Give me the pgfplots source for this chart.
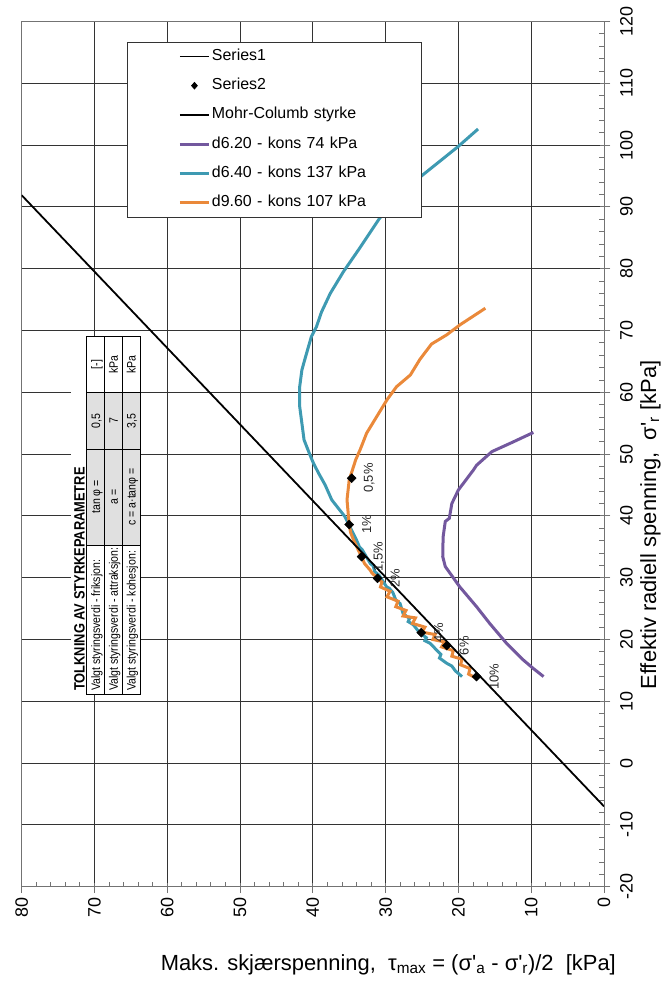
\documentclass[border=0pt]{standalone}
\usepackage{fontspec}
\setmainfont{Liberation Sans}
\newfontfamily\lsans{Liberation Sans}
\newfontfamily\narrowfont[FakeStretch=0.86]{Liberation Sans}
\usepackage{pgfplots}
\usepackage{pgfplotstable}
\pgfplotsset{compat=1.18}
\definecolor{mpurple}{RGB}{115,88,158}
\definecolor{mteal}{RGB}{62,154,178}
\definecolor{morange}{RGB}{234,137,58}
\definecolor{cellgray}{RGB}{224,224,224}

\pgfplotstableread{
tau sig
9.7 53.5
12.6 51.9
15.4 50.4
17.5 48.2
17.95 47.4
20.0 44.2
20.9 42.0
21.25 39.6
21.8 39.1
22.1 36.6
22.15 33.4
21.8 31.8
19.8 28.5
17.5 25.3
15.7 22.6
13.4 19.4
11.1 16.7
9.7 15.3
8.3 14.0
}\purpletab

\pgfplotstableread{
tau sig
17.3 102.6
20.0 99.8
25.5 94.6
30.8 88.2
33.75 83.0
35.8 79.5
37.6 76.0
38.8 73.0
39.5 70.6
40.2 69.0
41.1 65.3
41.5 63.6
41.8 60.9
41.8 57.7
41.5 55.0
41.2 52.3
40.4 49.9
39.9 48.5
39.2 46.9
38.3 45.0
37.4 42.6
35.6 39.9
34.0 36.1
33.6 35.0
33.2 34.5
32.1 32.3
31.7 31.9
31.5 31.0
30.9 30.4
29.85 28.5
29.5 28.3
29.0 27.6
28.6 26.4
28.0 25.8
27.6 24.2
26.7 23.4
26.9 22.9
26.2 22.4
25.3 21.05
24.4 20.3
24.6 19.8
23.9 19.4
23.0 18.3
22.4 17.6
22.6 17.0
21.6 16.15
20.9 15.7
20.4 14.9
19.5 14.0
}\tealtab

\pgfplotstableread{
tau sig
17.5 13.7
18.6 14.4
18.4 15.3
19.7 15.9
19.5 16.8
20.9 17.3
20.7 18.2
22.3 18.8
21.9 19.6
23.5 20.0
23.2 20.8
25.0 21.2
24.6 22.0
26.3 22.6
25.9 23.5
27.6 23.8
27.2 24.7
28.6 25.3
28.3 26.2
29.8 26.9
29.4 27.8
30.7 28.5
30.5 29.3
31.1 29.9
31.9 30.8
32.1 31.2
32.9 32.3
33.3 33.4
33.8 34.6
34.4 36.1
34.8 37.3
35.0 38.6
35.3 42.6
35.0 45.8
34.4 48.0
34.1 49.1
33.5 50.7
32.6 53.4
31.2 56.1
29.8 58.8
28.5 60.9
26.6 62.8
25.3 65.3
23.7 67.8
21.6 69.3
19.8 70.9
16.3 73.6
}\orangetab

\pgfplotstableread{
tau sig lab
34.66 46.1 0,5\%
35.0 38.6 1\%
33.3 33.4 1,5\%
31.1 29.9 2\%
25.1 21.1 4\%
21.6 19.0 6\%
17.5 14.0 10\%
}\pointtab

\begin{document}
\begin{tikzpicture}
\useasboundingbox (0,0) rectangle (667bp,981bp);
\begin{axis}[
  at={(21.6bp,94.3bp)}, anchor=south west,
  scale only axis, width=582.4bp, height=865.2bp,
  x dir=reverse, xmin=0, xmax=80, ymin=-20, ymax=120,
  xtick={0,10,...,80}, ytick={-20,-10,...,120},
  xticklabels={0,10,20,30,40,50,60,70,80},
  yticklabels={{-20},{-10},0,10,20,30,40,50,60,70,80,90,100,110,120},
  minor x tick num=4, minor y tick num=4,
  xtick pos=left, ytick pos=right, yticklabel pos=right,
  tick align=inside, major tick length=4bp, minor tick length=4.5bp,
  grid=major, major grid style={black!80, line width=0.8bp},
  axis line style={black!55, line width=0.9bp},
  tick style={black!55, line width=0.8bp},
  ticklabel style={font=\lsans\fontsize{18}{20}\selectfont},
  xticklabel style={rotate=90, anchor=east, inner xsep=11bp},
  yticklabel style={rotate=90, anchor=north, inner ysep=16bp},
  extra x ticks={0,10,...,80}, extra x tick labels={},
  extra x tick style={grid=none, tick align=outside, major tick length=6.5bp},
  extra y ticks={-20,-10,...,120}, extra y tick labels={},
  extra y tick style={grid=none, tick align=outside, major tick length=6.5bp},
  legend style={at={(0.1815,0.9767)}, anchor=north west, draw=black!80,
    line width=0.9bp, fill=white, inner xsep=50.7bp, inner ysep=6.8bp,
    row sep=14.3bp, font=\lsans\fontsize{16}{18}\selectfont,
    nodes={inner xsep=1.5bp, inner ysep=0pt, text height=11.5bp,
      text depth=3.5bp, text width=157bp, align=left}},
  legend cell align=left,
  legend image code/.code={\draw (0bp,0bp) -- (29bp,0bp);},
]
\addlegendimage{black, line width=0.6bp}
\addlegendentry{Series1}
\addlegendimage{black, legend image code/.code={\path[draw=none, fill=none] (0bp,0bp) -- (29bp,0bp);
  \fill[black] (14.5bp,3.2bp) -- (17.3bp,0bp) -- (14.5bp,-3.2bp) -- (11.7bp,0bp) -- cycle;}}
\addlegendentry{Series2}
\addlegendimage{black, line width=1.8bp}
\addlegendentry{Mohr-Columb styrke}
\addlegendimage{mpurple, line width=3bp}
\addlegendentry{d6.20 - kons 74 kPa}
\addlegendimage{mteal, line width=3bp}
\addlegendentry{d6.40 - kons 137 kPa}
\addlegendimage{morange, line width=3bp}
\addlegendentry{d9.60 - kons 107 kPa}

\addplot[forget plot, mpurple, line width=3bp] table[x=tau, y=sig] {\purpletab};
\addplot[forget plot, mteal, line width=3bp] table[x=tau, y=sig] {\tealtab};
\addplot[forget plot, morange, line width=3bp] table[x=tau, y=sig] {\orangetab};
\addplot[forget plot, black, line width=1.8bp] coordinates {(0,-7.0) (80,91.9)};
\addplot[forget plot, only marks, mark=square*, mark size=3.2bp,
  mark options={rotate=45, fill=black, draw=black},
  point meta=explicit symbolic, nodes near coords,
  nodes near coords style={font=\lsans\fontsize{13}{14}\selectfont, text=black!85,
    xshift=17.5bp, rotate=90, anchor=center, inner sep=0pt}]
  table[x=tau, y=sig, meta=lab] {\pointtab};
\end{axis}

% strength parameter table (rotated)
\fill[white] (71bp,287bp) rectangle (140bp,644.3bp);
\fill[cellgray] (86.7bp,436bp) rectangle (140bp,588.5bp);
\draw[black, line width=0.7bp] (86.7bp,287bp) rectangle (140bp,644.3bp);
\draw[black, line width=0.7bp] (104.3bp,287bp) -- (104.3bp,644.3bp)
  (122.3bp,287bp) -- (122.3bp,644.3bp)
  (86.7bp,588.5bp) -- (140bp,588.5bp)
  (86.7bp,532bp) -- (140bp,532bp)
  (86.7bp,436bp) -- (140bp,436bp);
\begin{scope}[every node/.style={rotate=90, inner sep=0pt, font=\narrowfont\fontsize{12.3}{12.3}\selectfont}]
\node[anchor=base west, font=\narrowfont\bfseries\fontsize{15}{15}\selectfont] at (84.5bp,290bp) {TOLKNING AV STYRKEPARAMETRE};
\node[anchor=base west] at (100.1bp,290bp) {Valgt styringsverdi - friksjon:};
\node[anchor=base west] at (117.9bp,290bp) {Valgt styringsverdi - attraksjon:};
\node[anchor=base west] at (135.7bp,290bp) {Valgt styringsverdi - kohesjon:};
\node[anchor=base] at (100.1bp,484bp) {tan φ =};
\node[anchor=base] at (117.9bp,484bp) {a =};
\node[anchor=base] at (135.7bp,484bp) {c = a·tanφ =};
\node[anchor=base] at (100.1bp,560.3bp) {0,5};
\node[anchor=base] at (117.9bp,560.3bp) {7};
\node[anchor=base] at (135.7bp,560.3bp) {3,5};
\node[anchor=base] at (100.1bp,616.4bp) {[-]};
\node[anchor=base] at (117.9bp,616.4bp) {kPa};
\node[anchor=base] at (135.7bp,616.4bp) {kPa};
\end{scope}

% axis titles
\node[anchor=base east, inner sep=0pt, font=\lsans\fontsize{22}{24}\selectfont] at (616bp,11bp)
  {Maks. skjærspenning,\ \ τ\textsubscript{max} = (σ'\textsubscript{a} - σ'\textsubscript{r})/2\ \ [kPa]};
\node[rotate=90, anchor=base, inner sep=0pt, font=\lsans\fontsize{22}{24}\selectfont] at (656bp,456bp)
  {Effektiv radiell spenning,\ \ σ'\textsubscript{r} [kPa]};
\end{tikzpicture}
\end{document}
